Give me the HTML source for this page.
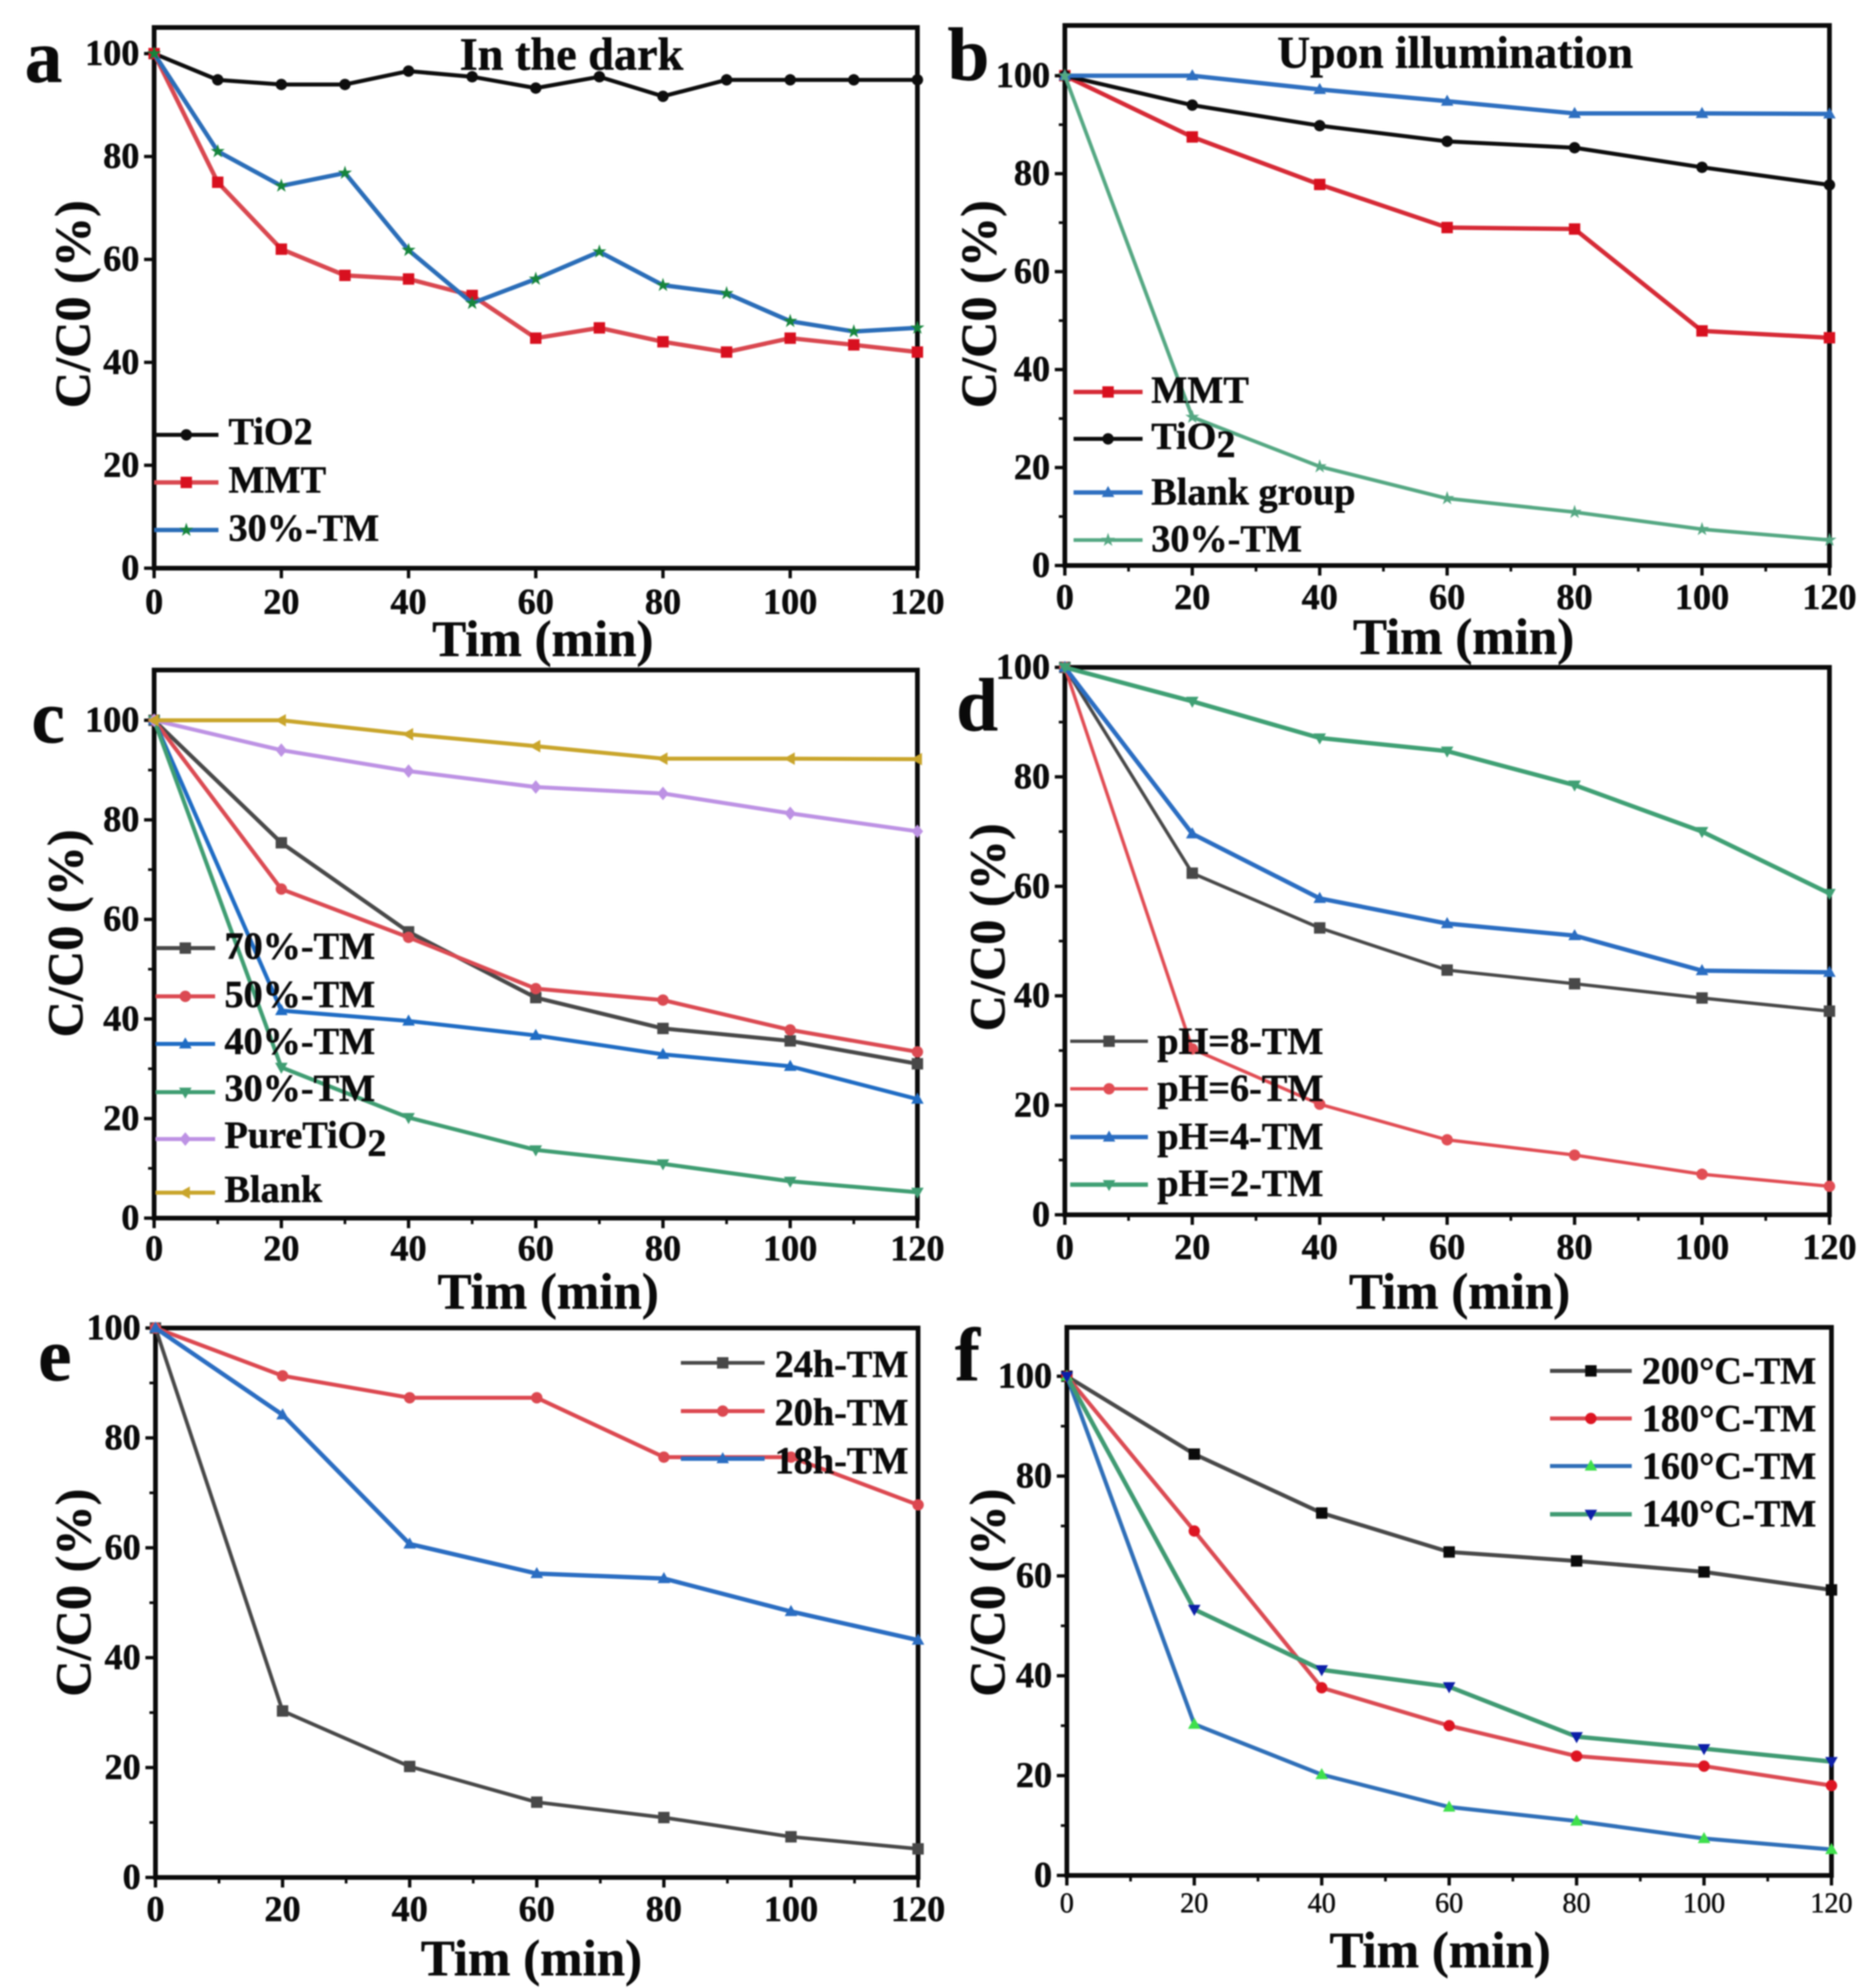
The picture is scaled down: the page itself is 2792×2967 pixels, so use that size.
<!DOCTYPE html>
<html lang="en">
<head>
<meta charset="utf-8">
<title>C/C0 degradation curves, panels a to f</title>
<style>
  html, body { margin: 0; padding: 0; background: #ffffff; }
  body { width: 2792px; height: 2967px; overflow: hidden; }
  svg { display: block; filter: blur(1.1px); }
  text { font-family: "Liberation Serif", "DejaVu Serif", serif; font-weight: 700; fill: #0a0a0a; stroke: #0a0a0a; stroke-width: 0.7px; }
</style>
</head>
<body>
<svg id="figure" xmlns="http://www.w3.org/2000/svg" width="2792" height="2967" viewBox="0 0 2792 2967"></svg>
<script>
/* ---------- data ---------- */
const timeA = [0, 10, 20, 30, 40, 50, 60, 70, 80, 90, 100, 110, 120];
const timeStd = [0, 20, 40, 60, 80, 100, 120];
const xTickLabels = [0, 20, 40, 60, 80, 100, 120];
const yTickLabels = [0, 20, 40, 60, 80, 100];
const xTitle = "Tim (min)";
const yTitle = "C/C0 (%)";

const aTiO2 = [100, 94.9, 94, 94, 96.6, 95.5, 93.3, 95.5, 91.7, 94.9, 94.9, 94.9, 94.9];
const aMMT = [100, 75, 62, 56.9, 56.2, 53, 44.7, 46.7, 44, 42, 44.7, 43.4, 42];
const aTM30 = [100, 81, 74.3, 76.8, 61.8, 51.5, 56.2, 61.5, 55, 53.4, 48, 46, 46.7];

const bMMT = [100, 87.5, 77.8, 69, 68.7, 47.9, 46.5];
const bTiO2 = [100, 94, 89.8, 86.6, 85.3, 81.3, 77.7];
const bBlank = [100, 100, 97.2, 94.8, 92.3, 92.3, 92.2];
const bTM30 = [100, 30.3, 20.2, 13.7, 10.9, 7.4, 5.2];

const cTM70 = [100, 75.4, 57.5, 44.3, 38.1, 35.6, 31];
const cTM50 = [100, 66.1, 56.4, 46.1, 43.8, 37.8, 33.4];
const cTM40 = [100, 41.7, 39.6, 36.7, 32.9, 30.5, 23.9];
const cTM30 = [100, 30.3, 20.2, 13.7, 10.9, 7.4, 5.2];
const cPure = [100, 94, 89.8, 86.6, 85.3, 81.3, 77.7];
const cBlank = [100, 100, 97.2, 94.8, 92.3, 92.3, 92.2];

const dPH8 = [100, 62.4, 52.4, 44.7, 42.2, 39.6, 37.2];
const dPH6 = [100, 30.3, 20.2, 13.7, 10.9, 7.4, 5.2];
const dPH4 = [100, 69.6, 57.8, 53.2, 51, 44.6, 44.3];
const dPH2 = [100, 93.8, 87.1, 84.7, 78.5, 70, 58.7];

const eH24 = [100, 30.3, 20.2, 13.7, 10.9, 7.4, 5.2];
const eH20 = [100, 91.3, 87.3, 87.3, 76.5, 76.5, 67.8];
const eH18 = [100, 84.2, 60.7, 55.3, 54.4, 48.4, 43.2];

const fC200 = [100, 84.4, 72.6, 64.8, 63, 60.8, 57.2];
const fC180 = [100, 69, 37.6, 30, 23.9, 21.9, 18];
const fC160 = [100, 30.3, 20.2, 13.7, 10.9, 7.4, 5.2];
const fC140 = [100, 53.3, 41.2, 37.8, 27.8, 25.4, 22.8];

/* ---------- styling and layout of each panel ---------- */
const panels = [
  { id: "a", left: 230, right: 1369, top: 41, y0: 848, y100: 80, minor: false,
    xLabelDy: 68, xTitleX: 810, xTitleY: 979, yTitleX: 134, yTitleY: 454,
    letterX: 37, letterY: 122, note: "In the dark", noteX: 686, noteY: 104, noteSize: 69,
    series: [
      { name: "TiO2", time: timeA, values: aTiO2, line: "#0d0d0d", fill: "#0d0d0d", shape: "circle", w: 6 },
      { name: "MMT", time: timeA, values: aMMT, line: "#d9474f", fill: "#d8101f", shape: "square", w: 6.5 },
      { name: "30%-TM", time: timeA, values: aTM30, line: "#2a6db8", fill: "#16853c", shape: "star", w: 6.5 }
    ],
    legend: { x1: 230, x2: 326, textX: 341, rows: [[649, 663], [720, 735], [791, 807]] } },
  { id: "b", left: 1589, right: 2730, top: 38, y0: 844, y100: 113, minor: true,
    xLabelDy: 65, xTitleX: 2184, xTitleY: 976, yTitleX: 1486, yTitleY: 454,
    letterX: 1414, letterY: 119, note: "Upon illumination", noteX: 1906, noteY: 101, noteSize: 68,
    series: [
      { name: "MMT", time: timeStd, values: bMMT, line: "#d62a36", fill: "#d8101f", shape: "square", w: 6.5 },
      { name: "TiO_2", time: timeStd, values: bTiO2, line: "#0d0d0d", fill: "#0d0d0d", shape: "circle", w: 6 },
      { name: "Blank group", time: timeStd, values: bBlank, line: "#2e6fc0", fill: "#2e6fc0", shape: "up", w: 6.5 },
      { name: "30%-TM", time: timeStd, values: bTM30, line: "#55a883", fill: "#55a883", shape: "star", w: 5.5 }
    ],
    legend: { x1: 1602, x2: 1705, textX: 1718, rows: [[585, 601], [655, 670], [735, 753], [806, 823]] } },
  { id: "c", left: 230, right: 1369, top: 1000, y0: 1818, y100: 1075, minor: true,
    xLabelDy: 63, xTitleX: 818, xTitleY: 1953, yTitleX: 123, yTitleY: 1393,
    letterX: 47, letterY: 1108,
    series: [
      { name: "70%-TM", time: timeStd, values: cTM70, line: "#484848", fill: "#484848", shape: "square", w: 6 },
      { name: "50%-TM", time: timeStd, values: cTM50, line: "#db4a52", fill: "#db4a52", shape: "circle", w: 6 },
      { name: "40%-TM", time: timeStd, values: cTM40, line: "#1f6cc4", fill: "#1f6cc4", shape: "up", w: 6 },
      { name: "30%-TM", time: timeStd, values: cTM30, line: "#3f9d72", fill: "#3f9d72", shape: "down", w: 6 },
      { name: "PureTiO_2", time: timeStd, values: cPure, line: "#bd92e4", fill: "#bd92e4", shape: "diamond", w: 6 },
      { name: "Blank", time: timeStd, values: cBlank, line: "#c9a52b", fill: "#c9a52b", shape: "left", w: 6 }
    ],
    legend: { x1: 232, x2: 321, textX: 335, rows: [[1415, 1431], [1487, 1503], [1558, 1573], [1630, 1643], [1700, 1713], [1780, 1794]] } },
  { id: "d", left: 1589, right: 2730, top: 996, y0: 1813, y100: 996, minor: true,
    xLabelDy: 66, xTitleX: 2178, xTitleY: 1953, yTitleX: 1499, yTitleY: 1384,
    letterX: 1427, letterY: 1090,
    series: [
      { name: "pH=8-TM", time: timeStd, values: dPH8, line: "#484848", fill: "#484848", shape: "square", w: 5 },
      { name: "pH=6-TM", time: timeStd, values: dPH6, line: "#e14d54", fill: "#e14d54", shape: "circle", w: 5 },
      { name: "pH=4-TM", time: timeStd, values: dPH4, line: "#2a6dc2", fill: "#2a6dc2", shape: "up", w: 6.5 },
      { name: "pH=2-TM", time: timeStd, values: dPH2, line: "#3fa074", fill: "#3fa074", shape: "down", w: 6.5 }
    ],
    legend: { x1: 1597, x2: 1713, textX: 1727, rows: [[1554, 1573], [1625, 1643], [1697, 1715], [1768, 1785]] } },
  { id: "e", left: 232, right: 1370, top: 1982, y0: 2802, y100: 1982, minor: true,
    xLabelDy: 65, xTitleX: 793, xTitleY: 2948, yTitleX: 135, yTitleY: 2377,
    letterX: 57, letterY: 2060,
    series: [
      { name: "24h-TM", time: timeStd, values: eH24, line: "#484848", fill: "#484848", shape: "square", w: 5.5 },
      { name: "20h-TM", time: timeStd, values: eH20, line: "#dc4850", fill: "#dc4850", shape: "circle", w: 6 },
      { name: "18h-TM", time: timeStd, values: eH18, line: "#2a6dc2", fill: "#2a6dc2", shape: "up", w: 6.5 }
    ],
    legend: { x1: 1016, x2: 1141, textX: 1156, rows: [[2034, 2055], [2106, 2127], [2177, 2199]] } },
  { id: "f", left: 1592, right: 2733, top: 1981, y0: 2799, y100: 2054, minor: true,
    xLabelDy: 55, xTitleX: 2149, xTitleY: 2936, yTitleX: 1499, yTitleY: 2377,
    letterX: 1425, letterY: 2060, thinXLabels: true,
    series: [
      { name: "200°C-TM", time: timeStd, values: fC200, line: "#484848", fill: "#0a0a0a", shape: "square", w: 6 },
      { name: "180°C-TM", time: timeStd, values: fC180, line: "#db4a52", fill: "#dd1522", shape: "circle", w: 6 },
      { name: "160°C-TM", time: timeStd, values: fC160, line: "#2f6fb8", fill: "#3fe04c", shape: "up", w: 6 },
      { name: "140°C-TM", time: timeStd, values: fC140, line: "#3f9a72", fill: "#0c1fa8", shape: "down", w: 6.5 }
    ],
    legend: { x1: 2313, x2: 2435, textX: 2450, rows: [[2046, 2065], [2117, 2136], [2188, 2207], [2260, 2278]] } }
];

/* ---------- drawing helpers ---------- */
const SVG_NS = "http://www.w3.org/2000/svg";
const root = document.getElementById("figure");

function make(tag, attrs, parent, name) {
  const el = document.createElementNS(SVG_NS, tag);
  for (const k in attrs) el.setAttribute(k, attrs[k]);
  
  
  parent.appendChild(el);
  return el;
}

function slug(s) {
  return s.toLowerCase().replace(/[^a-z0-9]+/g, "-").replace(/^-|-$/g, "");
}

function addLabel(parent, str, attrs, name) {
  const el = make("text", attrs, parent, name);
  const parts = str.split("_");
  el.appendChild(document.createTextNode(parts[0]));
  if (parts[1]) {
    const sub = document.createElementNS(SVG_NS, "tspan");
    sub.setAttribute("dy", "12");
    sub.textContent = parts[1];
    el.appendChild(sub);
  }
  return el;
}

function markerPoints(shape, x, y, r) {
  const pts = [];
  if (shape === "up") pts.push([x, y - r * 1.15], [x + r * 1.1, y + r * 0.8], [x - r * 1.1, y + r * 0.8]);
  if (shape === "down") pts.push([x, y + r * 1.15], [x + r * 1.1, y - r * 0.8], [x - r * 1.1, y - r * 0.8]);
  if (shape === "left") pts.push([x - r * 1.15, y], [x + r * 0.8, y - r * 1.1], [x + r * 0.8, y + r * 1.1]);
  if (shape === "diamond") pts.push([x, y - r * 1.2], [x + r * 1.0, y], [x, y + r * 1.2], [x - r * 1.0, y]);
  if (shape === "star") {
    for (let i = 0; i < 10; i++) {
      const rad = i % 2 === 0 ? r * 1.3 : r * 0.5;
      const a = -Math.PI / 2 + i * Math.PI / 5;
      pts.push([x + rad * Math.cos(a), y + rad * Math.sin(a)]);
    }
  }
  return pts.map(function (p) { return p[0].toFixed(1) + "," + p[1].toFixed(1); }).join(" ");
}

function drawMarker(parent, shape, x, y, color, name) {
  const r = 8.5;
  if (shape === "circle") {
    return make("circle", { cx: x, cy: y, r: r, fill: color }, parent, name);
  }
  if (shape === "square") {
    return make("rect", { x: x - r, y: y - r, width: 2 * r, height: 2 * r, fill: color }, parent, name);
  }
  return make("polygon", { points: markerPoints(shape, x, y, r), fill: color }, parent, name);
}

function drawPanel(p) {
  const g = make("g", {}, root, "panel-" + p.id);
  const xScale = function (t) { return p.left + (t / 120) * (p.right - p.left); };
  const yScale = function (v) { return p.y0 - (v / 100) * (p.y0 - p.y100); };

  /* ticks */
  xTickLabels.forEach(function (t) {
    make("line", { x1: xScale(t), x2: xScale(t), y1: p.y0, y2: p.y0 + 15, stroke: "#0a0a0a", "stroke-width": 5 }, g, "x-tick-" + t);
    const lab = make("text", { x: xScale(t), y: p.y0 + p.xLabelDy, "text-anchor": "middle", "font-size": p.thinXLabels ? 42 : 54 }, g, "x-tick-label-" + t);
    if (p.thinXLabels) lab.style.fontWeight = "400";
    lab.textContent = t;
    if (p.minor && t < 120) {
      make("line", { x1: xScale(t + 10), x2: xScale(t + 10), y1: p.y0, y2: p.y0 + 9, stroke: "#0a0a0a", "stroke-width": 4 }, g, "x-minor-tick");
    }
  });
  yTickLabels.forEach(function (v) {
    make("line", { x1: p.left - 15, x2: p.left, y1: yScale(v), y2: yScale(v), stroke: "#0a0a0a", "stroke-width": 5 }, g, "y-tick-" + v);
    const lab = make("text", { x: p.left - 22, y: yScale(v) + 17, "text-anchor": "end", "font-size": 54 }, g, "y-tick-label-" + v);
    lab.textContent = v;
    if (p.minor && v < 100) {
      make("line", { x1: p.left - 9, x2: p.left, y1: yScale(v + 10), y2: yScale(v + 10), stroke: "#0a0a0a", "stroke-width": 4 }, g, "y-minor-tick");
    }
  });

  /* plot frame */
  make("rect", { x: p.left, y: p.top, width: p.right - p.left, height: p.y0 - p.top, fill: "none", stroke: "#0a0a0a", "stroke-width": 7 }, g, "plot-frame");

  /* series */
  p.series.forEach(function (s) {
    const sg = make("g", {}, g, "series-" + slug(s.name));
    const pts = s.values.map(function (v, i) { return xScale(s.time[i]).toFixed(1) + "," + yScale(v).toFixed(1); }).join(" ");
    make("polyline", { points: pts, fill: "none", stroke: s.line, "stroke-width": s.w, "stroke-linejoin": "round" }, sg, "series-line");
    s.values.forEach(function (v, i) {
      drawMarker(sg, s.shape, xScale(s.time[i]), yScale(v), s.fill, "data-point");
    });
  });

  /* legend */
  const lg = make("g", {}, g, "legend");
  p.series.forEach(function (s, i) {
    const row = p.legend.rows[i];
    const entry = make("g", {}, lg, "legend-entry-" + slug(s.name));
    make("line", { x1: p.legend.x1, x2: p.legend.x2, y1: row[0], y2: row[0], stroke: s.line, "stroke-width": s.w }, entry, "legend-line");
    drawMarker(entry, s.shape, (p.legend.x1 + p.legend.x2) / 2, row[0], s.fill, "legend-marker");
    addLabel(entry, s.name, { x: p.legend.textX, y: row[1], "font-size": 57 }, "legend-label");
  });

  /* titles */
  const xt = make("text", { x: p.xTitleX, y: p.xTitleY, "text-anchor": "middle", "font-size": 76 }, g, "x-axis-title");
  xt.textContent = xTitle;
  const yt = make("text", { x: p.yTitleX, y: p.yTitleY, "text-anchor": "middle", "font-size": 75, transform: "rotate(-90 " + p.yTitleX + " " + p.yTitleY + ")" }, g, "y-axis-title");
  yt.textContent = yTitle;
  const letter = make("text", { x: p.letterX, y: p.letterY, "font-size": 112 }, g, "panel-letter");
  letter.textContent = p.id;
  if (p.note) {
    const note = make("text", { x: p.noteX, y: p.noteY, "font-size": p.noteSize }, g, "panel-title");
    note.textContent = p.note;
  }
}

panels.forEach(drawPanel);
</script>
</body>
</html>
